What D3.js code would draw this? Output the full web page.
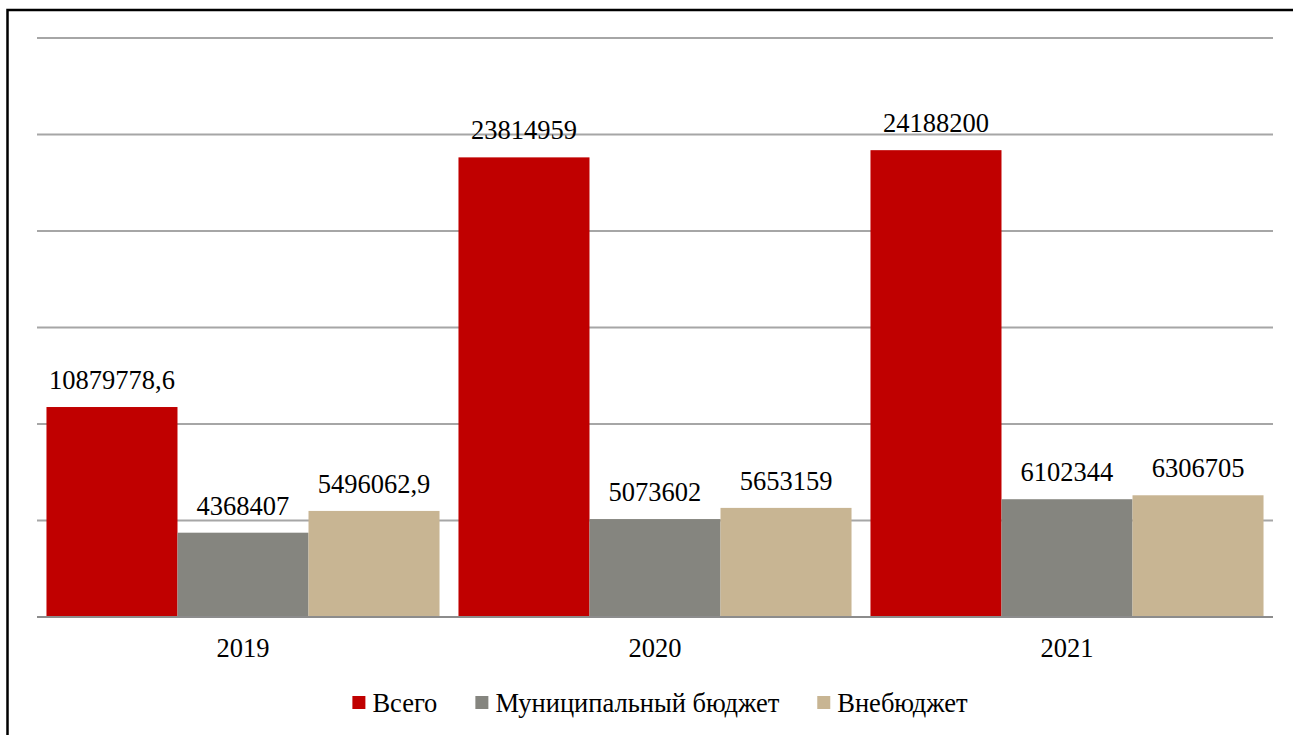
<!DOCTYPE html>
<html>
<head>
<meta charset="utf-8">
<script src="https://cdn.jsdelivr.net/npm/d3@7"></script>
<style>
  html, body { margin: 0; padding: 0; background: #fff; }
  svg { display: block; }
</style>
</head>
<body>
<svg id="chart" width="1293" height="735"></svg>
<script>
const categories = ["2019", "2020", "2021"];
const seriesNames = ["Всего", "Муниципальный бюджет", "Внебюджет"];
const seriesColors = ["#c00000", "#85857f", "#c8b593"];
const vsego = [10879778.6, 23814959, 24188200];
const munBudget = [4368407, 5073602, 6102344];
const vneBudget = [5496062.9, 5653159, 6306705];
const valueLabels = [
  ["10879778,6", "23814959", "24188200"],
  ["4368407", "5073602", "6102344"],
  ["5496062,9", "5653159", "6306705"]
];
const yTicks = [0, 5000000, 10000000, 15000000, 20000000, 25000000, 30000000];

const seriesValues = [vsego, munBudget, vneBudget];
const svg = d3.select("#chart");
const font = "'Liberation Serif', 'Times New Roman', serif";

// outer border
svg.append("rect").attr("x", 7.5).attr("y", 10).attr("width", 1300).attr("height", 740)
  .attr("fill", "none").attr("stroke", "#000").attr("stroke-width", 2.5);

const plotLeft = 37, plotRight = 1273, plotTop = 38, plotBottom = 617;
const x0 = d3.scaleBand().domain(categories).range([plotLeft, plotRight]).paddingInner(0.046).paddingOuter(0.023);
const x1 = d3.scaleBand().domain(d3.range(seriesNames.length)).range([0, x0.bandwidth()]).padding(0);
const y = d3.scaleLinear().domain([0, 30000000]).range([plotBottom, plotTop]);

// gridlines
svg.append("g").selectAll("line").data(yTicks.filter(d => d > 0)).join("line")
  .attr("x1", plotLeft).attr("x2", plotRight)
  .attr("y1", d => y(d)).attr("y2", d => y(d))
  .attr("stroke", "#a6a6a6").attr("stroke-width", 2);

// bars
const groups = svg.append("g").selectAll("g").data(categories).join("g")
  .attr("transform", d => `translate(${x0(d)},0)`);

groups.each(function(cat, ci) {
  const g = d3.select(this);
  seriesNames.forEach((s, si) => {
    const v = seriesValues[si][ci];
    g.append("rect")
      .attr("x", x1(si)).attr("width", x1.bandwidth())
      .attr("y", y(v)).attr("height", y(0) - y(v))
      .attr("fill", seriesColors[si]);
    g.append("text")
      .attr("x", x1(si) + x1.bandwidth() / 2)
      .attr("y", y(v) - 18)
      .attr("text-anchor", "middle")
      .attr("font-family", font).attr("font-size", 26.5).attr("fill", "#000")
      .text(valueLabels[si][ci]);
  });
});

// baseline
svg.append("line").attr("x1", plotLeft).attr("x2", plotRight).attr("y1", y(0)).attr("y2", y(0))
  .attr("stroke", "#8c8c8c").attr("stroke-width", 2);

// x axis labels
svg.append("g").selectAll("text").data(categories).join("text")
  .attr("x", d => x0(d) + x0.bandwidth() / 2)
  .attr("y", 657)
  .attr("text-anchor", "middle")
  .attr("font-family", font).attr("font-size", 26.5).attr("fill", "#000")
  .text(d => d);

// legend
const legend = svg.append("g");
let cx = 0;
seriesNames.forEach((s, i) => {
  const it = legend.append("g");
  it.append("rect").attr("x", 0).attr("y", -16).attr("width", 13).attr("height", 13).attr("fill", seriesColors[i]);
  const t = it.append("text").attr("x", 20).attr("y", 0)
    .attr("font-family", font).attr("font-size", 26.5).attr("fill", "#000").text(s);
  const w = 20 + t.node().getComputedTextLength();
  it.attr("transform", `translate(${cx},0)`);
  cx += w + 38;
});
const totalW = cx - 38;
legend.attr("transform", `translate(${660 - totalW / 2},712)`);
</script>
</body>
</html>
